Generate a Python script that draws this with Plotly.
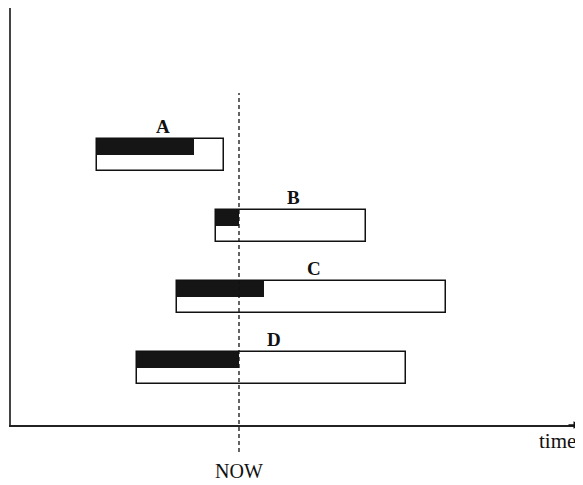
import plotly.graph_objects as go

# tasks on the time line (arbitrary time units), one row per task
tasks = ["A", "B", "C", "D"]
rows = [0, 1, 2, 3]
start = [8.6, 20.5, 16.6, 12.6]
end = [21.3, 35.5, 43.5, 39.5]
done = [18.3, 22.8, 25.3, 22.8]   # progress reached so far
now = 22.8

SERIF = "Liberation Serif, Times New Roman, serif"
bar_h = 0.44

fig = go.Figure()

# whole planned span: white box with black outline
fig.add_trace(go.Bar(
    y=rows, x=[e - s for s, e in zip(start, end)], base=start,
    orientation="h", width=bar_h,
    marker=dict(color="white", line=dict(color="#111", width=1.5)),
    hoverinfo="skip", showlegend=False,
))

# completed part: black, top half of the box
fig.add_trace(go.Bar(
    y=[r - bar_h / 4 for r in rows], x=[d - s for s, d in zip(start, done)], base=start,
    orientation="h", width=bar_h / 2,
    marker=dict(color="#151515", line=dict(width=0)),
    hoverinfo="skip", showlegend=False,
))

# task labels above each box
for t, r, s, e in zip(tasks, rows, start, end):
    fig.add_annotation(
        x=(s + e) / 2 + 0.2, y=r - bar_h / 2, text=f"<b>{t}</b>",
        showarrow=False, yanchor="middle", yshift=13,
        font=dict(family=SERIF, size=19, color="#111"),
    )

# NOW marker
fig.add_shape(type="line", x0=now, x1=now, xref="x", yref="paper", y0=-0.065, y1=0.796,
              line=dict(color="#111", width=1.3, dash="4px,3px"))
fig.add_annotation(x=now, y=-0.110, xref="x", yref="paper", text="NOW", showarrow=False,
                   yanchor="middle", font=dict(family=SERIF, size=20, color="#111"))
fig.add_annotation(x=54.6, y=-0.038, xref="x", yref="paper", text="time", showarrow=False,
                   yanchor="middle", font=dict(family=SERIF, size=21, color="#111"))

# arrow head at the end of the time axis
fig.add_annotation(x=57, y=0, xref="x", yref="paper", ax=-14, ay=0, text="",
                   showarrow=True, arrowhead=2, arrowsize=1, arrowwidth=1.5, arrowcolor="#111")

fig.update_xaxes(range=[0, 57], showline=True, linecolor="#222", linewidth=1.5,
                 showgrid=False, zeroline=False, showticklabels=False, ticks="")
fig.update_yaxes(range=[3.803, -2.070], showline=True, linecolor="#444", linewidth=2,
                 showgrid=False, zeroline=False, showticklabels=False, ticks="")

# the page adds an 8px body margin, so the figure is kept that much smaller
fig.update_layout(
    width=575, height=477,
    margin=dict(l=3, r=2, t=0, b=60),
    plot_bgcolor="white", paper_bgcolor="white",
    barmode="overlay", bargap=0,
)

fig.write_html("out.html")
